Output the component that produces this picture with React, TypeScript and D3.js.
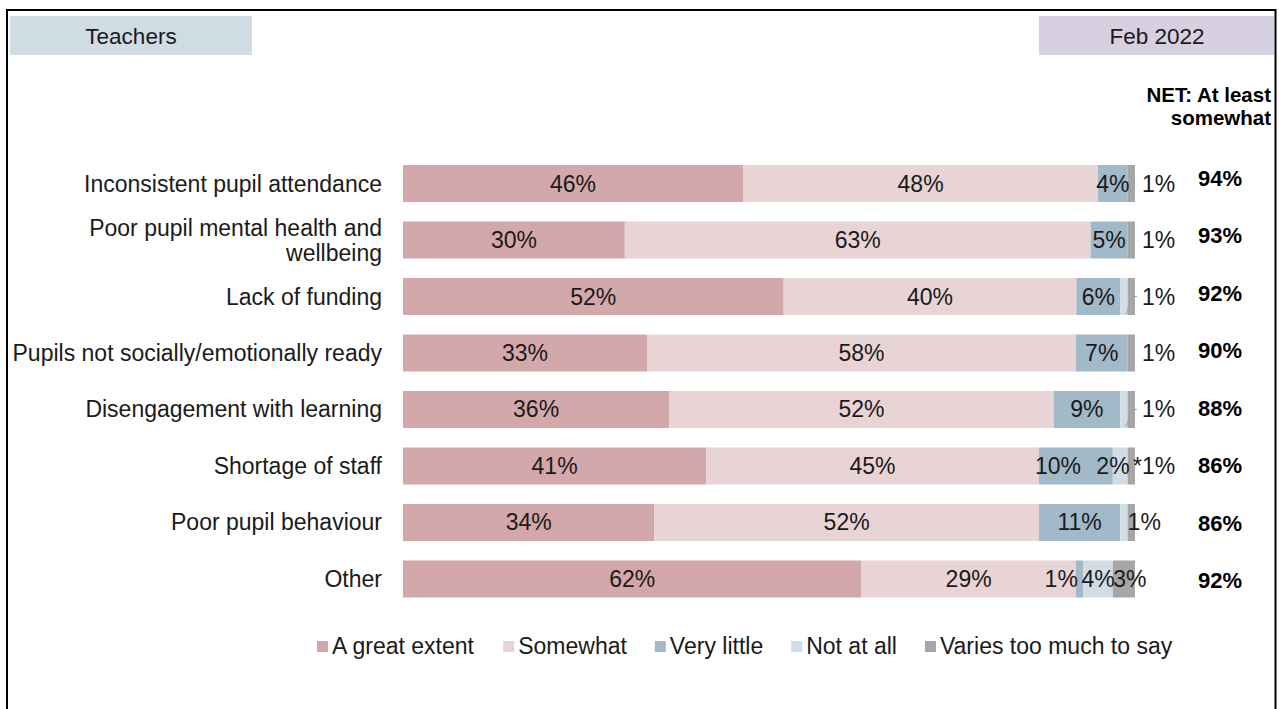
import React from "react";
import * as d3 from "d3";

const categories = [
  "Inconsistent pupil attendance",
  "Poor pupil mental health and wellbeing",
  "Lack of funding",
  "Pupils not socially/emotionally ready",
  "Disengagement with learning",
  "Shortage of staff",
  "Poor pupil behaviour",
  "Other",
];
const categoryLines = [
  ["Inconsistent pupil attendance"],
  ["Poor pupil mental health and", "wellbeing"],
  ["Lack of funding"],
  ["Pupils not socially/emotionally ready"],
  ["Disengagement with learning"],
  ["Shortage of staff"],
  ["Poor pupil behaviour"],
  ["Other"],
];
const seriesNames = ["A great extent", "Somewhat", "Very little", "Not at all", "Varies too much to say"];
const greatExtent = [46, 30, 52, 33, 36, 41, 34, 62];
const somewhat = [48, 63, 40, 58, 52, 45, 52, 29];
const veryLittle = [4, 5, 6, 7, 9, 10, 11, 1];
const notAtAll = [0, 0, 1, 0, 1, 2, 1, 4];
const varies = [1, 1, 1, 1, 1, 1, 1, 3];
const netAtLeast = [94, 93, 92, 90, 88, 86, 86, 92];
const seriesColors = ["#D3A8AA", "#E8D3D5", "#A1B9C8", "#D1DDE5", "#A6A6A6"];

const FONT = "'Liberation Sans', Arial, sans-serif";
const TXT = "#1a1a1a";

function measure(text: string, font: string): number {
  const c = document.createElement("canvas").getContext("2d");
  if (!c) return text.length * 10;
  c.font = font;
  return c.measureText(text).width;
}

export default function App() {
  const W = 1279, H = 709;
  const series = [greatExtent, somewhat, veryLittle, notAtAll, varies];
  const x = d3.scaleLinear().domain([0, 1]).range([403, 1135]);
  const y = d3.scaleBand<string>().domain(categories).range([165, 597.5]).paddingInner(0.345).paddingOuter(0);
  const yNet = d3.scalePoint<string>().domain(categories).range([178, 580]);
  const bw = y.bandwidth();

  const rows = categories.map((cat, i) => {
    const vals = series.map((s) => s[i]);
    const total = d3.sum(vals);
    const stack: { s: number; v: number; x0: number; x1: number }[] = [];
    let acc = 0;
    vals.forEach((v, s) => {
      stack.push({ s, v, x0: x(acc / total), x1: x((acc + v) / total) });
      acc += v;
    });
    return { cat, i, stack };
  });

  // legend layout
  const legFont = `23px ${FONT}`;
  let lx = 317;
  const legendItems = seriesNames.map((n, k) => {
    const item = { n, k, x: lx };
    lx += 11 + 4 + measure(n, legFont) + 28;
    return item;
  });

  const labelFor = (row: any, seg: any) => {
    const i = row.i;
    const cy = (y(row.cat) as number) + bw / 2;
    const txt = `${seg.v}%`;
    if (seg.v <= 0) return null;
    const w = seg.x1 - seg.x0;
    const ns = row.stack[3];
    const crowded = ns.v > 0 && ns.x1 - ns.x0 > 14 && row.stack[4].x1 - row.stack[4].x0 < 14;
    if (seg.s <= 2) {
      if (seg.s === 2 && crowded) return { x: seg.x0 - 4, y: cy, t: txt, a: "start" };
      if (w > 20) return { x: (seg.x0 + seg.x1) / 2, y: cy, t: txt, a: "middle" };
      return { x: seg.x0 + 2, y: cy, t: txt, a: "end" };
    }
    if (seg.s === 3) {
      if (crowded) return { x: seg.x1 + 2, y: cy, t: txt, a: "end" };
      if (w > 14) return { x: (seg.x0 + seg.x1) / 2, y: cy, t: txt, a: "middle" };
      return null;
    }
    // varies
    if (w > 14) return { x: (seg.x0 + seg.x1) / 2 + 6, y: cy, t: txt, a: "middle" };
    if (crowded) return { x: seg.x1 - 2, y: cy, t: "*" + txt, a: "start" };
    if (i === 6) return { x: seg.x0, y: cy, t: txt, a: "start" };
    return { x: seg.x1 + 7, y: cy, t: txt, a: "start" };
  };

  return (
    <div style={{ position: "absolute", left: 0, top: 0 }}>
      <svg width={W} height={H} style={{ display: "block", fontFamily: FONT }}>
        <rect x={0} y={0} width={W} height={H} fill="#fff" />
        <rect x={7} y={10} width={1268.5} height={800} fill="none" stroke="#000" strokeWidth={2} />
        <rect x={10} y={16} width={242} height={39} fill="#D0DCE3" />
        <text x={131} y={44} textAnchor="middle" fontSize={22.5} fill={TXT}>Teachers</text>
        <rect x={1039} y={16} width={235} height={39} fill="#D6D0E1" />
        <text x={1157} y={44} textAnchor="middle" fontSize={22.5} fill={TXT}>Feb 2022</text>
        <text x={1271} y={102} textAnchor="end" fontSize={20.5} fontWeight="bold" fill="#000">NET: At least</text>
        <text x={1271} y={125} textAnchor="end" fontSize={20.5} fontWeight="bold" fill="#000">somewhat</text>

        {rows.map((row) => {
          const top = y(row.cat) as number;
          const cy = top + bw / 2;
          const lines = categoryLines[row.i];
          return (
            <g key={row.cat}>
              {lines.map((ln, k) => (
                <text key={k} x={382} y={cy + 8 + (k - (lines.length - 1) / 2) * 25} textAnchor="end" fontSize={23} fill={TXT}>{ln}</text>
              ))}
              {row.stack.map((seg) => seg.v > 0 ? (
                <rect key={seg.s} x={seg.x0} y={top} width={Math.max(0, seg.x1 - seg.x0)} height={bw} fill={seriesColors[seg.s]} />
              ) : null)}
              {row.stack[3].v > 0 && row.stack[3].x1 - row.stack[3].x0 < 14 && row.i !== 6 ? (
                <polyline
                  points={`${row.stack[3].x0 + 6},${top + bw - 1} ${row.stack[4].x0 + 4},${cy} ${row.stack[4].x1 + 2},${cy}`}
                  fill="none" stroke="#A0A0A0" strokeWidth={1} />
              ) : null}
              {row.stack.map((seg) => {
                const l = labelFor(row, seg);
                return l ? (
                  <text key={"l" + seg.s} x={l.x} y={l.y + 8} textAnchor={l.a as any} fontSize={23} fill={TXT}>{l.t}</text>
                ) : null;
              })}
              <text x={1220} y={(yNet(row.cat) as number) + 8} textAnchor="middle" fontSize={22} fontWeight="bold" fill="#000">{netAtLeast[row.i]}%</text>
            </g>
          );
        })}

        {legendItems.map((it) => (
          <g key={it.n}>
            <rect x={it.x} y={641} width={11} height={11} fill={seriesColors[it.k]} />
            <text x={it.x + 15} y={654} fontSize={23} fill={TXT}>{it.n}</text>
          </g>
        ))}
      </svg>
    </div>
  );
}
